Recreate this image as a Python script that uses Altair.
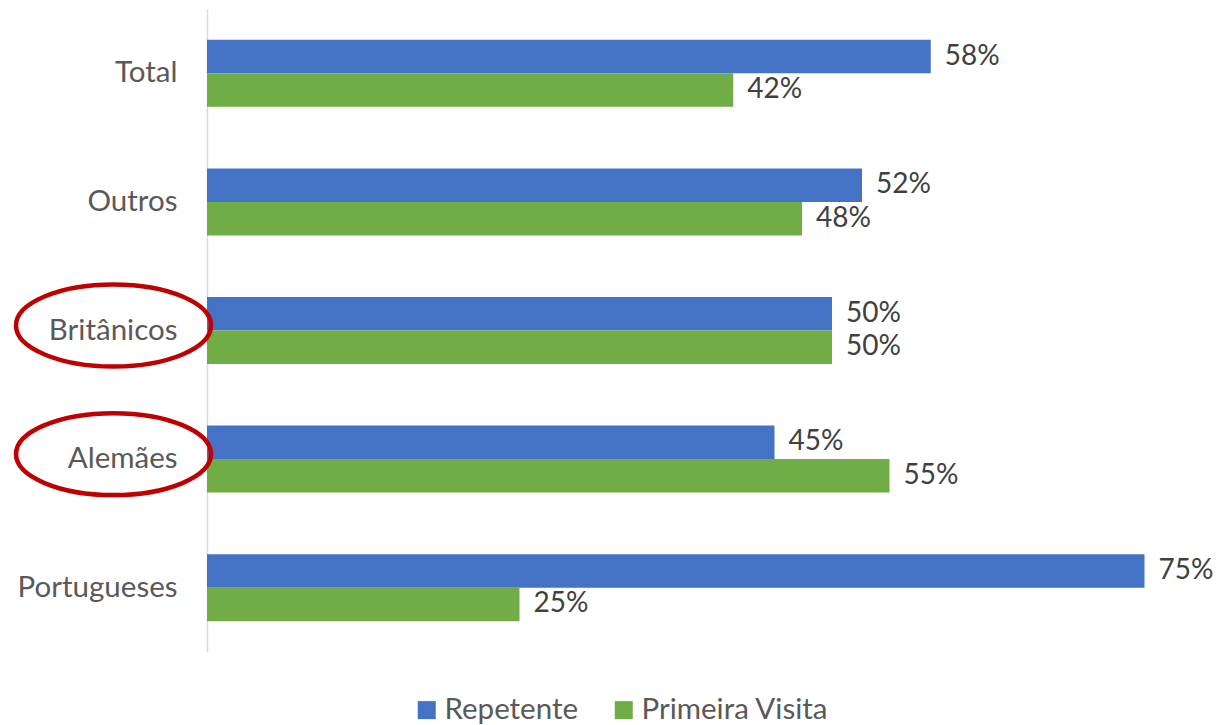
import altair as alt
import pandas as pd

categories = ["Total", "Outros", "Britânicos", "Alemães", "Portugueses"]
repetente = [57.9, 52.4, 50.0, 45.4, 75.0]
primeira_visita = [42.1, 47.6, 50.0, 54.6, 25.0]
repetente_labels = ["58%", "52%", "50%", "45%", "75%"]
primeira_labels = ["42%", "48%", "50%", "55%", "25%"]
series = ["Repetente", "Primeira Visita"]
colors = ["#4472C4", "#70AD47"]
highlighted = ["Britânicos", "Alemães"]

rows = []
for c, r, p, rl, pl in zip(categories, repetente, primeira_visita,
                           repetente_labels, primeira_labels):
    rows.append({"cat": c, "serie": "Repetente", "v": r, "label": rl})
    rows.append({"cat": c, "serie": "Primeira Visita", "v": p, "label": pl})
df = pd.DataFrame(rows)
hl = pd.DataFrame({"cat": highlighted})

FONT = "Lato"

y_scale = alt.Scale(domain=categories, paddingInner=0.479, paddingOuter=0.2395)
y = alt.Y(
    "cat:N", scale=y_scale, sort=categories,
    axis=alt.Axis(title=None, ticks=False, domainColor="#D9D9D9", domainWidth=1.5,
                  labelFontSize=29.5, labelColor="#595959", labelFont=FONT,
                  labelPadding=30, grid=False, labelLimit=0),
)
yoff = alt.YOffset("serie:N", sort=series,
                   scale=alt.Scale(domain=series, paddingInner=0, paddingOuter=0))
x = alt.X("v:Q", scale=alt.Scale(domain=[0, 80]), axis=None)
color = alt.Color(
    "serie:N", scale=alt.Scale(domain=series, range=colors), sort=series,
    legend=alt.Legend(title=None, orient="none", legendX=205, legendY=686,
                      direction="horizontal", symbolType="square", symbolSize=324,
                      symbolStrokeWidth=0, labelFontSize=29.5, labelFont=FONT,
                      labelColor="#595959", columnPadding=30, labelOffset=3,
                      padding=0, labelLimit=0),
)

bars = alt.Chart(df).mark_bar().encode(y=y, yOffset=yoff, x=x, color=color)
text = alt.Chart(df).mark_text(
    align="left", baseline="middle", dx=14, fontSize=28, font=FONT, color="#404040"
).encode(y=y, yOffset=yoff, x=x, text="label:N")

ELLIPSE = "M -1 0 A 1 0.42 0 1 1 1 0 A 1 0.42 0 1 1 -1 0 Z"
ellipse = alt.Chart(hl).mark_point(
    shape=ELLIPSE, size=38025, filled=False, stroke="#C00000", strokeWidth=4.5,
    opacity=1, yOffset=-5,
).encode(y=y, x=alt.value(-93.5))

chart = alt.layer(bars, text, ellipse).properties(
    width=1000, height=643,
    autosize=alt.AutoSizeParams(type="none"),
    padding={"left": 199, "top": 1, "right": 9, "bottom": 74},
).configure_view(stroke=None)

chart.save("out.html", embed_options={"renderer": "svg", "actions": False})
